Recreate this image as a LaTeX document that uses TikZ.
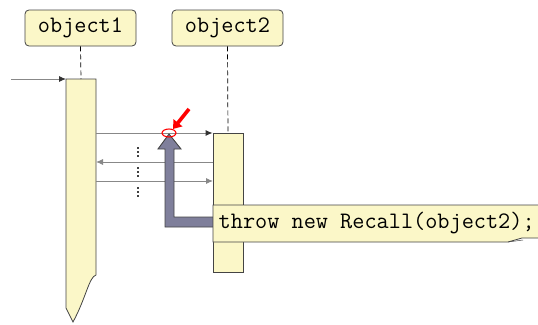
\documentclass[tikz,border=0pt]{standalone}
\usetikzlibrary{arrows.meta}
\definecolor{boxyellow}{HTML}{FBF7C8}
\definecolor{edgegrey}{HTML}{444444}
\definecolor{msggrey}{HTML}{888888}
\definecolor{bigarrow}{HTML}{7F7F9B}
\begin{document}
\begin{tikzpicture}[x=1pt,y=-1pt,
  mono/.style={font=\ttfamily\fontsize{23.6}{26}\selectfont},
  head/.style={mono, draw=edgegrey, fill=boxyellow, rounded corners=4pt, minimum width=111pt, minimum height=36pt, inner sep=0pt, line width=0.8pt},
  bar/.style={draw=edgegrey, fill=boxyellow, minimum width=30pt, inner sep=0pt, line width=0.8pt},
  life/.style={draw=black, dashed, dash pattern=on 5pt off 3pt, line width=0.7pt},
  msg/.style={draw=msggrey, line width=0.9pt, -{Latex[length=7pt,width=6pt]}},
  msgdark/.style={msg, -{Latex[length=7pt,width=6pt,color=black!80]}},
  dotv/.style={fill=black!75, draw=none}
]
\useasboundingbox (0,0) rectangle (538,324);

% heads
\node[head] (o1) at (80.5,28) {object1};
\node[head] (o2) at (227.5,28) {object2};

% activation bar of object1 (with torn bottom)
\coordinate (b1tl) at (66,79);
\coordinate (b1tr) at (96,79);
\coordinate (b1top) at (81,79);
\draw[edgegrey, fill=boxyellow, line width=0.8pt]
  (b1tl) -- (b1tr) -- (96,275) .. controls (89,277) and (86,298) .. (73,322) -- (66,308) -- cycle;

% activation bar of object2
\node[bar, anchor=north, minimum height=139pt] (b2) at (228,133) {};

% lifelines
\draw[life] (o1.south) -- (b1top);
\draw[life] (o2.south) -- (b2.north);

% incoming message
\coordinate (start) at (11,79);
\draw[msgdark] (start) -- (b1tl);

% messages between bars
\coordinate (m1s) at (96,133);
\coordinate (m2s) at (213,162);
\coordinate (m2e) at (96,162);
\coordinate (m3s) at (96,181);
\coordinate (m3e) at (213,181);
\draw[msgdark] (m1s) -- (b2.north west);
\draw[msg] (m2s) -- (m2e);
\draw[msg] (m3s) -- (m3e);

% vertical ellipses
\foreach \y in {148,168,188}{
  \foreach \d in {0,4,8}{
    \fill[dotv] (137.2,\y+\d-0.8) rectangle (138.8,\y+\d+0.8);
  }
}

% big L-shaped arrow
\draw[edgegrey, fill=bigarrow, line width=0.9pt, line join=miter]
  (169,134) -- (181,149) -- (174,149) -- (174,217) -- (214,217) -- (214,227)
  -- (165,227) -- (165,149) -- (158,149) -- cycle;

% note
\draw[edgegrey, fill=boxyellow, line width=0.8pt]
  (213,205) -- (540,205) -- (540,238) -- (522,238) -- (508,242) -- (213,242) -- cycle;
\draw[edgegrey, line width=0.5pt] (508,242) -- (523,240);
\node[mono, anchor=base west, inner sep=0pt] (note) at (218.5,228.5) {throw new Recall(object2);};

% red marker
\draw[red, line width=1.1pt] (169,133) ellipse [x radius=7, y radius=4];
\coordinate (rs) at (189,109);
\coordinate (re) at (173,129);
\draw[red, line width=3.6pt, -{Triangle[length=8pt,width=11pt]}] (rs) -- (re);
\end{tikzpicture}
\end{document}
